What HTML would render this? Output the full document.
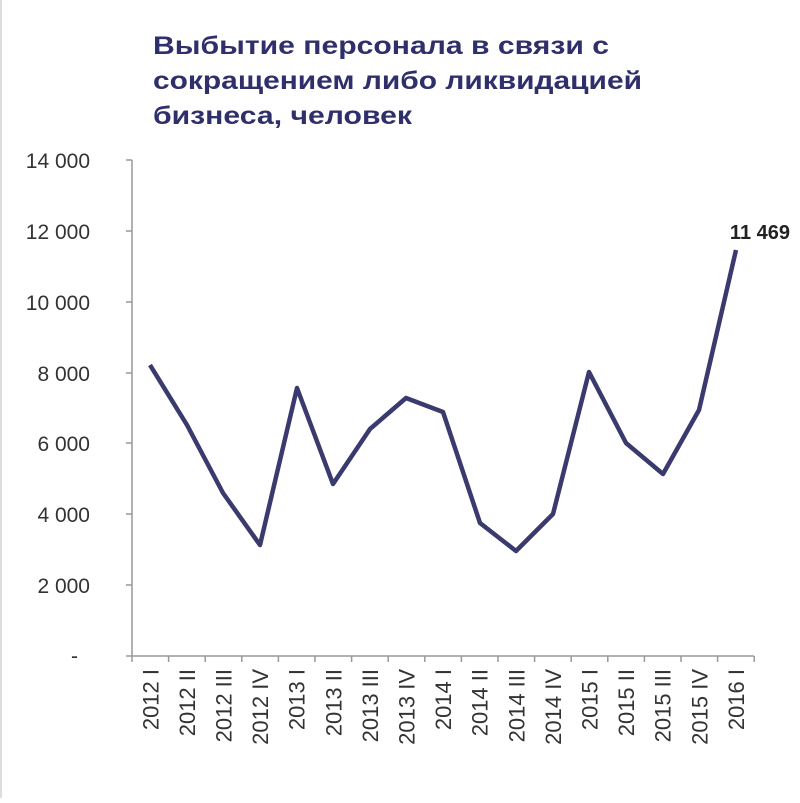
<!DOCTYPE html>
<html><head><meta charset="utf-8"><style>
html,body{margin:0;padding:0;background:#fff}
</style></head><body>
<svg width="800" height="798" xmlns="http://www.w3.org/2000/svg" font-family="Liberation Sans, sans-serif">
<rect width="800" height="798" fill="#fff"/>
<line x1="1" y1="0" x2="1" y2="798" stroke="#ddd" stroke-width="2"/>
<g fill="#2e2f6b" font-weight="bold" font-size="25">
<text x="153" y="54" textLength="456" lengthAdjust="spacingAndGlyphs">Выбытие  персонала в связи с</text>
<text x="153" y="89" textLength="489" lengthAdjust="spacingAndGlyphs">сокращением либо ликвидацией</text>
<text x="153" y="124" textLength="259" lengthAdjust="spacingAndGlyphs">бизнеса, человек</text>
</g>
<g stroke="#999" stroke-width="1.5">
<line x1="132" y1="160" x2="132" y2="656"/>
<line x1="132" y1="656" x2="754" y2="656"/>
<line x1="126" y1="160" x2="132" y2="160"/>
<line x1="126" y1="231" x2="132" y2="231"/>
<line x1="126" y1="302" x2="132" y2="302"/>
<line x1="126" y1="373" x2="132" y2="373"/>
<line x1="126" y1="443" x2="132" y2="443"/>
<line x1="126" y1="514" x2="132" y2="514"/>
<line x1="126" y1="585" x2="132" y2="585"/>
<line x1="126" y1="656" x2="132" y2="656"/>
</g>
<g id="xt" stroke="#999" stroke-width="1.5"></g>
<g fill="#333" font-size="21" text-anchor="end">
<text x="90" y="168">14 000</text>
<text x="90" y="239">12 000</text>
<text x="90" y="310">10 000</text>
<text x="90" y="381">8 000</text>
<text x="90" y="451">6 000</text>
<text x="90" y="522">4 000</text>
<text x="90" y="593">2 000</text>
<text x="78" y="663">-</text>
</g>
<g id="xl" fill="#333" font-size="22" text-anchor="end"></g>
<polyline fill="none" stroke="#3a3a6e" stroke-width="4.5" stroke-linejoin="round" points="150,365 187,425 223,493 260,545 297,388 333,484 370,429 406,398 443,412 480,523 516,551 553,514 589,372 626,443 663,474 699,410 736,250"/>
<text x="790" y="239" text-anchor="end" font-weight="bold" font-size="20" fill="#222">11 469</text>
<script>
var labels=["2012 I","2012 II","2012 III","2012 IV","2013 I","2013 II","2013 III","2013 IV","2014 I","2014 II","2014 III","2014 IV","2015 I","2015 II","2015 III","2015 IV","2016 I"];
var ns="http://www.w3.org/2000/svg",xt=document.getElementById("xt"),xl=document.getElementById("xl");
for(var i=0;i<=17;i++){var x=132+i*36.6;var l=document.createElementNS(ns,"line");l.setAttribute("x1",x);l.setAttribute("x2",x);l.setAttribute("y1",656);l.setAttribute("y2",662);xt.appendChild(l);}
for(var i=0;i<17;i++){var cx=132+18.3+i*36.6;var t=document.createElementNS(ns,"text");t.setAttribute("transform","translate("+(cx+8)+",669) rotate(-90)");t.textContent=labels[i];xl.appendChild(t);}
</script>
</svg>
</body></html>
